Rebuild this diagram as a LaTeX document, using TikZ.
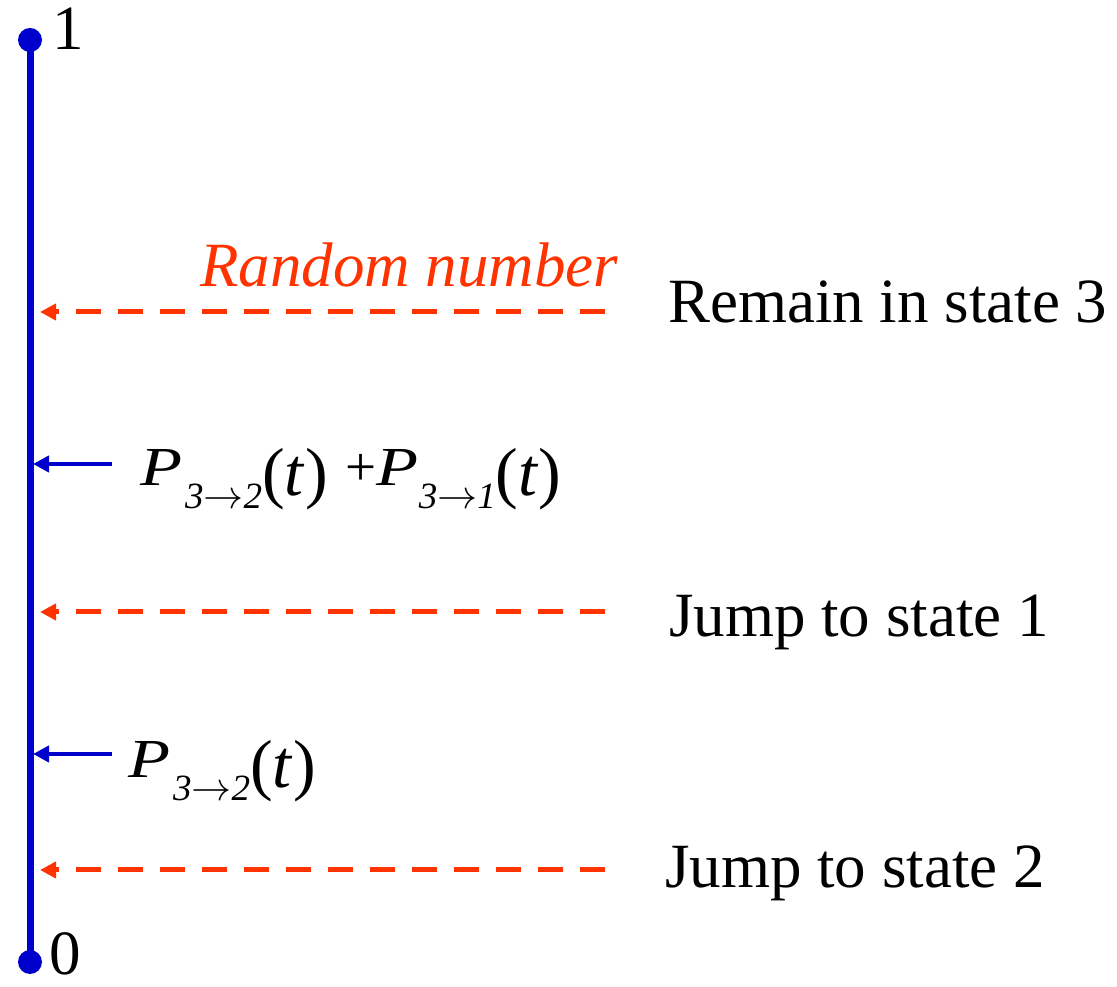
\documentclass[tikz,border=0pt]{standalone}
\usepackage{fontspec}
\setmainfont{Liberation Serif}
\usetikzlibrary{arrows.meta}
\definecolor{axisblue}{RGB}{0,0,204}
\definecolor{randred}{RGB}{255,51,0}
\newcommand{\bigtxt}{\fontsize{63}{70}\selectfont}
\newcommand{\ptxt}{\fontsize{55}{60}\selectfont}
\newcommand{\subarrow}{\resizebox{40pt}{!}{\(\rightarrow\)}}
% P term: #1 gap after P, #2 and #3 subscript states
\newcommand{\pterm}[3]{\scalebox{1.25}[1]{\textit{P}}\kern#1\raisebox{-23pt}{\fontsize{37}{42}\selectfont\itshape #2\subarrow#3}\raisebox{-10pt}{\fontsize{68}{72}\selectfont(\textit{t})}}
\begin{document}
\begin{tikzpicture}[x=1pt,y=1pt,
  lbl/.style={anchor=base west,inner sep=0pt,font=\bigtxt},
  plbl/.style={anchor=base west,inner sep=0pt,font=\ptxt},
  randarrow/.style={draw=randred,line width=5pt,dash pattern=on 25pt off 17pt,-{Triangle[length=16pt,width=16pt]}},
  probarrow/.style={draw=axisblue,line width=4.5pt,-{Triangle[length=16pt,width=16pt]}},
  enddot/.style={circle,fill=axisblue,inner sep=0pt,minimum size=24pt}]
\useasboundingbox (0,0) rectangle (1117,986);
% axis
\node[enddot] (top) at (30,946) {};
\node[enddot] (bot) at (30,24) {};
\draw[axisblue,line width=7pt] (top.center) -- (bot.center);
\node[lbl] (one) at (52,936) {1};
\node[lbl] (zero) at (49,12) {0};
% random number arrows
\coordinate (r1s) at (605,674); \coordinate (r1e) at (40,674);
\coordinate (r2s) at (605,374); \coordinate (r2e) at (40,374);
\coordinate (r3s) at (605,116); \coordinate (r3e) at (40,116);
\draw[randarrow] (r1s) -- (r1e);
\draw[randarrow] (r2s) -- (r2e);
\draw[randarrow] (r3s) -- (r3e);
\node[lbl,text=randred,font=\bigtxt\itshape] (rand) at (200,699) {Random number};
\node[lbl] (remain) at (668,663) {Remain in state 3};
\node[lbl] (jump1) at (669,349) {Jump to state 1};
\node[lbl] (jump2) at (665,99) {Jump to state 2};
% probability arrows
\coordinate (p1s) at (112,522); \coordinate (p1e) at (33,522);
\coordinate (p2s) at (112,232); \coordinate (p2e) at (33,232);
\draw[probarrow] (p1s) -- (p1e);
\draw[probarrow] (p2s) -- (p2e);
\node[plbl] (psum) at (140,500) {\pterm{3pt}{3}{2}\kern18pt+\pterm{0pt}{3}{1}};
\node[plbl] (pone) at (128,208) {\pterm{3pt}{3}{2}};
\end{tikzpicture}
\end{document}
